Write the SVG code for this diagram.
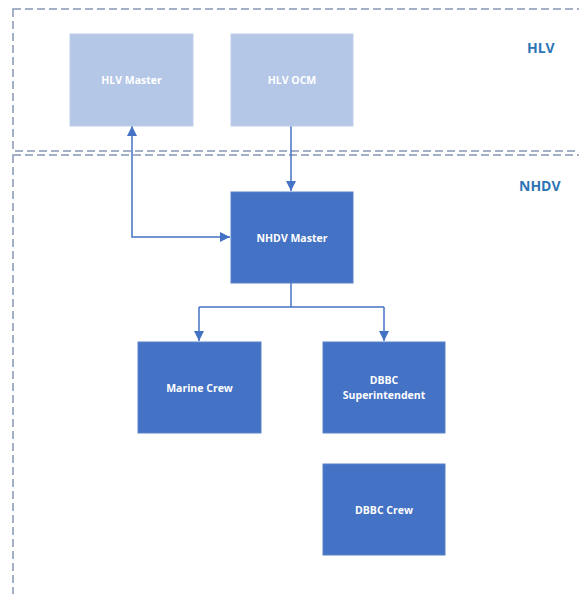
<svg xmlns="http://www.w3.org/2000/svg" width="579" height="594" viewBox="0 0 579 594">
  <style>
    .zone { fill: none; stroke: #8797b2; stroke-width: 1.5; stroke-dasharray: 8 4; }
    .zone-label { font-family: "Open Sans", "Liberation Sans", sans-serif; font-weight: bold; font-size: 14px; fill: #2e75b6; }
    .box-dark { fill: #4472c4; stroke: #5b82c9; stroke-width: 1; }
    .box-light { fill: #b4c7e7; stroke: #bfcfea; stroke-width: 1; }
    .label { font-family: "Open Sans", "Liberation Sans", sans-serif; font-weight: bold; font-size: 10.5px; fill: #ffffff; text-anchor: middle; }
    .link { fill: none; stroke: #4472c4; stroke-width: 1.5; }
  </style>
  <defs>
    <marker id="arrow" viewBox="0 0 10 10" refX="10" refY="5" markerWidth="10" markerHeight="10" markerUnits="userSpaceOnUse" orient="auto-start-reverse">
      <path d="M0,0 L10,5 L0,10 Z" fill="#4472c4"/>
    </marker>
  </defs>
  <rect width="579" height="594" fill="#ffffff"/>

  <!-- zones: both run past the right edge, the lower one also past the bottom -->
  <g id="zone-hlv">
    <rect class="zone" x="13" y="9" width="600" height="142"/>
    <text class="zone-label" x="527" y="53">HLV</text>
  </g>
  <g id="zone-nhdv">
    <rect class="zone" x="13" y="155" width="600" height="460"/>
    <text class="zone-label" x="519" y="191">NHDV</text>
  </g>

  <!-- connectors -->
  <g id="connectors">
    <path class="link" d="M291,126 L291,191" marker-end="url(#arrow)"/>
    <path class="link" d="M132,126 L132,237 L230,237" marker-start="url(#arrow)" marker-end="url(#arrow)"/>
    <path class="link" d="M291,283 L291,307"/>
    <path class="link" d="M199,307 L384,307"/>
    <path class="link" d="M199,307 L199,341" marker-end="url(#arrow)"/>
    <path class="link" d="M384,307 L384,341" marker-end="url(#arrow)"/>
  </g>

  <!-- nodes -->
  <g id="hlv-master">
    <rect class="box-light" x="70" y="34" width="123" height="92"/>
    <text class="label" x="131.5" y="83.5">HLV Master</text>
  </g>
  <g id="hlv-ocm">
    <rect class="box-light" x="231" y="34" width="122" height="92"/>
    <text class="label" x="292" y="83.5">HLV OCM</text>
  </g>
  <g id="nhdv-master">
    <rect class="box-dark" x="231" y="192" width="122" height="91"/>
    <text class="label" x="292" y="241.5">NHDV Master</text>
  </g>
  <g id="marine-crew">
    <rect class="box-dark" x="138" y="342" width="123" height="91"/>
    <text class="label" x="199.5" y="391.5">Marine Crew</text>
  </g>
  <g id="dbbc-superintendent">
    <rect class="box-dark" x="323" y="342" width="122" height="91"/>
    <text class="label" x="384" y="384">DBBC</text>
    <text class="label" x="384" y="399">Superintendent</text>
  </g>
  <g id="dbbc-crew">
    <rect class="box-dark" x="323" y="464" width="122" height="91"/>
    <text class="label" x="384" y="513.5">DBBC Crew</text>
  </g>
</svg>
